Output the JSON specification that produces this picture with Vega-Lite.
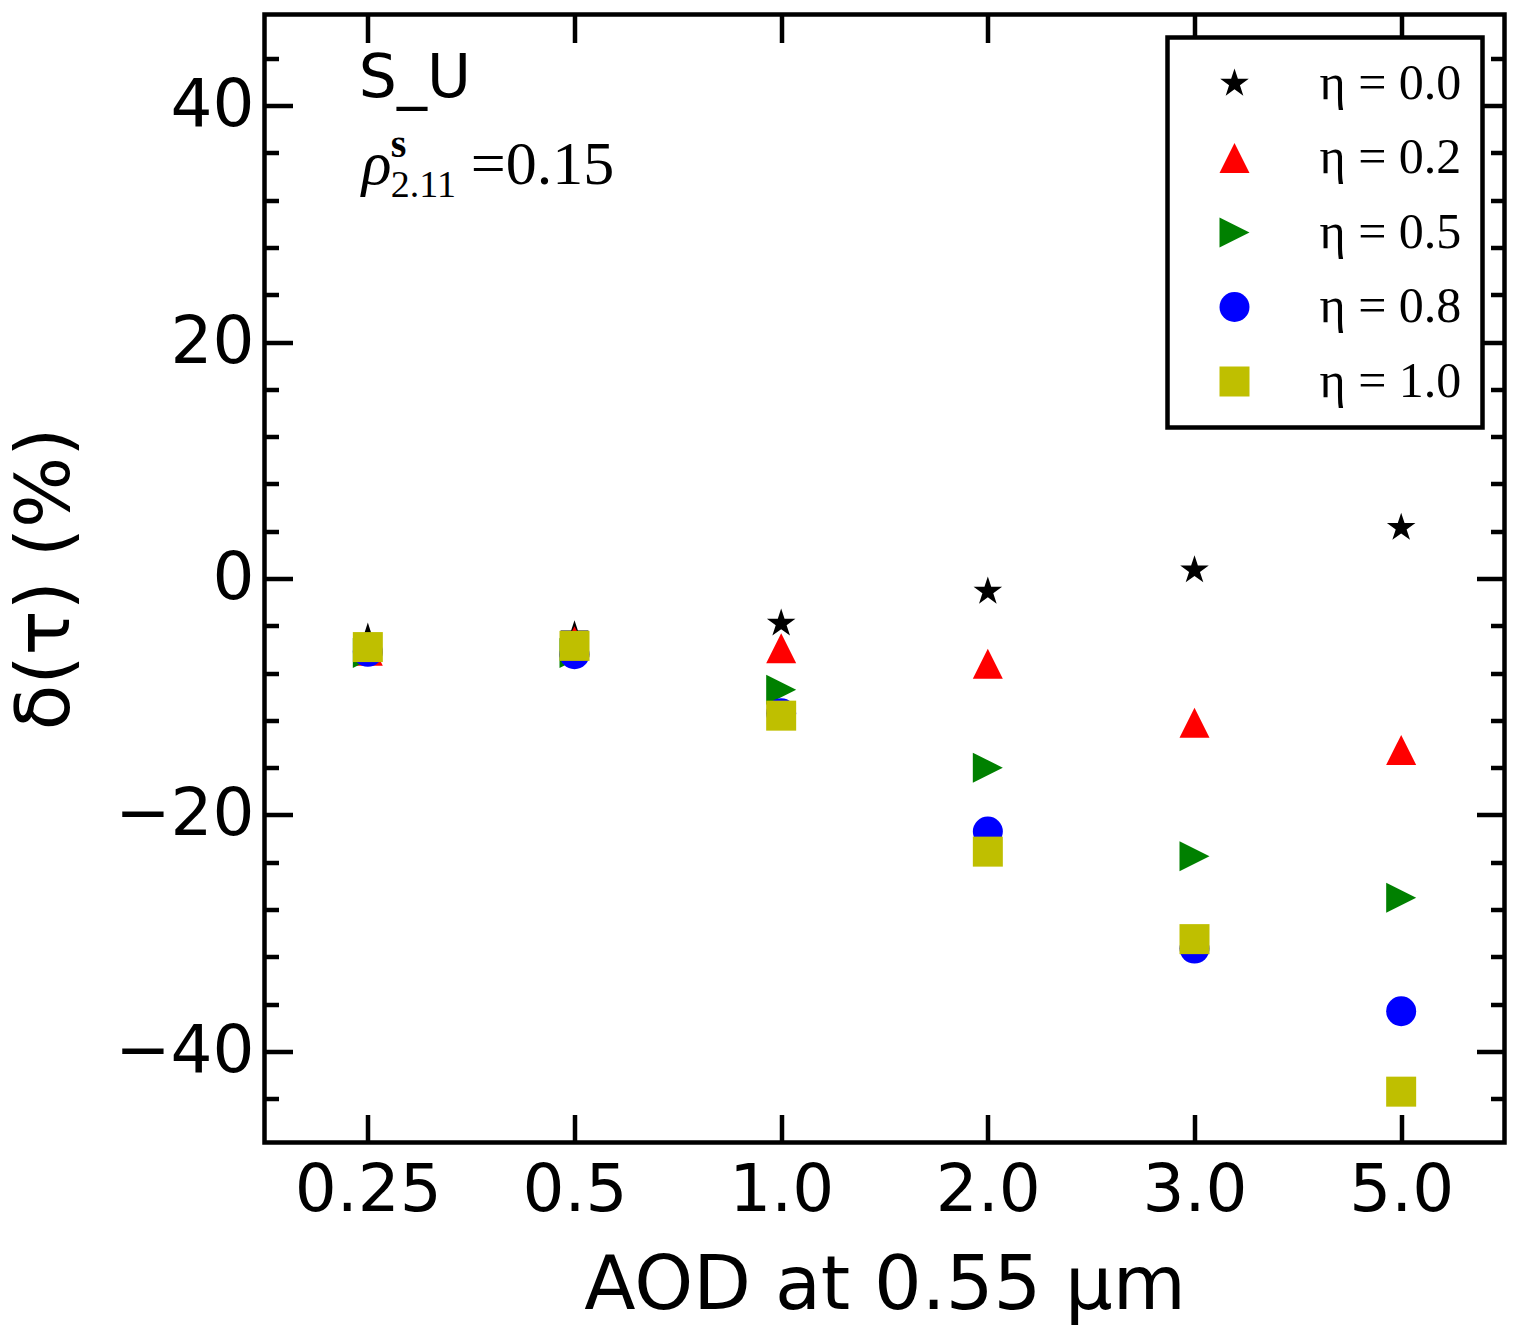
{
  "$schema": "https://vega.github.io/schema/vega-lite/v6.json",
  "width": 1240,
  "height": 1128,
  "autosize": {"type": "none"},
  "padding": {"left": 264.5, "top": 14.5, "right": 12.5, "bottom": 192.5},
  "background": "white",
  "config": {
    "view": {"stroke": "black", "strokeWidth": 4.5},
    "font": "DejaVu Sans",
    "axis": {"domain": false, "grid": false, "tickColor": "black", "tickWidth": 4.5, "labelColor": "black", "titleColor": "black", "labelFont": "DejaVu Sans", "titleFont": "DejaVu Sans", "titleFontWeight": "normal"},
    "legend": {
      "strokeColor": "black",
      "strokeWidth": 4.5,
      "fillColor": "white",
      "padding": 21,
      "offset": 22.5,
      "labelFont": "Liberation Serif",
      "labelFontSize": 50,
      "labelColor": "black",
      "labelLimit": 400,
      "symbolSize": 900,
      "symbolStrokeWidth": 0,
      "symbolOpacity": 1,
      "rowPadding": 24.5,
      "symbolOffset": 21,
      "labelOffset": 60
    }
  },
  "datasets": {
    "pts": [
      {"aod": "0.25", "eta": "η = 0.0", "delta": -5.0},
      {"aod": "0.5", "eta": "η = 0.0", "delta": -4.8},
      {"aod": "1.0", "eta": "η = 0.0", "delta": -3.8},
      {"aod": "2.0", "eta": "η = 0.0", "delta": -1.1},
      {"aod": "3.0", "eta": "η = 0.0", "delta": 0.7},
      {"aod": "5.0", "eta": "η = 0.0", "delta": 4.3},
      {"aod": "0.25", "eta": "η = 0.2", "delta": -6.1},
      {"aod": "0.5", "eta": "η = 0.2", "delta": -5.3},
      {"aod": "1.0", "eta": "η = 0.2", "delta": -5.9},
      {"aod": "2.0", "eta": "η = 0.2", "delta": -7.2},
      {"aod": "3.0", "eta": "η = 0.2", "delta": -12.2},
      {"aod": "5.0", "eta": "η = 0.2", "delta": -14.5},
      {"aod": "0.25", "eta": "η = 0.5", "delta": -6.3},
      {"aod": "0.5", "eta": "η = 0.5", "delta": -6.3},
      {"aod": "1.0", "eta": "η = 0.5", "delta": -9.4},
      {"aod": "2.0", "eta": "η = 0.5", "delta": -16.0},
      {"aod": "3.0", "eta": "η = 0.5", "delta": -23.5},
      {"aod": "5.0", "eta": "η = 0.5", "delta": -27.0},
      {"aod": "0.25", "eta": "η = 0.8", "delta": -6.2},
      {"aod": "0.5", "eta": "η = 0.8", "delta": -6.4},
      {"aod": "1.0", "eta": "η = 0.8", "delta": -11.4},
      {"aod": "2.0", "eta": "η = 0.8", "delta": -21.4},
      {"aod": "3.0", "eta": "η = 0.8", "delta": -31.3},
      {"aod": "5.0", "eta": "η = 0.8", "delta": -36.6},
      {"aod": "0.25", "eta": "η = 1.0", "delta": -5.8},
      {"aod": "0.5", "eta": "η = 1.0", "delta": -5.7},
      {"aod": "1.0", "eta": "η = 1.0", "delta": -11.6},
      {"aod": "2.0", "eta": "η = 1.0", "delta": -23.1},
      {"aod": "3.0", "eta": "η = 1.0", "delta": -30.5},
      {"aod": "5.0", "eta": "η = 1.0", "delta": -43.4}
    ]
  },
  "layer": [
    {
      "mark": {"type": "rule", "strokeDash": [30, 26], "strokeWidth": 4.5, "color": "black"},
      "encoding": {
        "y": {"datum": 0, "type": "quantitative", "scale": {"domain": [-47.7, 47.7], "nice": false, "zero": false},
          "axis": {"orient": "right", "values": [-40, -20, 0, 20, 40], "tickSize": -28, "labels": false, "title": null}}
      }
    },
    {
      "data": {"name": "pts"},
      "mark": {"type": "point", "filled": true, "opacity": 1, "size": 900, "strokeWidth": 0},
      "encoding": {
        "x": {"field": "aod", "type": "ordinal", "scale": {"type": "point", "padding": 0.5, "domain": ["0.25", "0.5", "1.0", "2.0", "3.0", "5.0"]},
          "axis": {"orient": "bottom", "labelAngle": 0, "labelFontSize": 66, "tickSize": -28, "labelPadding": 44, "title": "AOD at 0.55 μm", "titleFontSize": 75, "titlePadding": 26}},
        "y": {"field": "delta", "type": "quantitative", "scale": {"domain": [-47.7, 47.7], "nice": false, "zero": false},
          "axis": {"orient": "left", "values": [-40, -20, 0, 20, 40], "tickSize": -28, "labelPadding": 38.5, "labelFontSize": 66, "title": "δ(τ) (%)", "titleFontSize": 75, "titlePadding": 30}},
        "color": {"field": "eta", "type": "nominal", "scale": {"domain": ["η = 0.0", "η = 0.2", "η = 0.5", "η = 0.8", "η = 1.0"], "range": ["#000000", "#ff0000", "#008000", "#0000ff", "#bfbf00"]},
          "legend": {"title": null, "orient": "top-right"}},
        "shape": {"field": "eta", "type": "nominal", "scale": {"domain": ["η = 0.0", "η = 0.2", "η = 0.5", "η = 0.8", "η = 1.0"], "range": ["M0,-1L0.225,-0.309L0.951,-0.309L0.363,0.118L0.588,0.809L0,0.382L-0.588,0.809L-0.363,0.118L-0.951,-0.309L-0.225,-0.309Z", "M0,-1L1,1L-1,1Z", "M-1,-1L1,0L-1,1Z", "circle", "square"]},
          "legend": {"title": null, "orient": "top-right"}}
      }
    },
    {
      "data": {"name": "pts"},
      "mark": {"type": "point", "opacity": 0},
      "encoding": {
        "x": {"field": "aod", "type": "ordinal", "scale": {"type": "point", "padding": 0.5, "domain": ["0.25", "0.5", "1.0", "2.0", "3.0", "5.0"]},
          "axis": {"orient": "top", "tickSize": -28, "labels": false, "title": null}},
        "y": {"field": "delta", "type": "quantitative", "scale": {"domain": [-47.7, 47.7], "nice": false, "zero": false},
          "axis": {"orient": "left", "values": [-44, -36, -32, -28, -24, -16, -12, -8, -4, 4, 8, 12, 16, 24, 28, 32, 36, 44], "tickSize": -14, "labels": false, "title": null}}
      }
    },
    {
      "data": {"name": "pts"},
      "mark": {"type": "point", "opacity": 0},
      "encoding": {
        "x": {"field": "aod", "type": "ordinal", "scale": {"type": "point", "padding": 0.5, "domain": ["0.25", "0.5", "1.0", "2.0", "3.0", "5.0"]}, "axis": null},
        "y": {"field": "delta", "type": "quantitative", "scale": {"domain": [-47.7, 47.7], "nice": false, "zero": false},
          "axis": {"orient": "right", "values": [-44, -36, -32, -28, -24, -16, -12, -8, -4, 4, 8, 12, 16, 24, 28, 32, 36, 44], "tickSize": -14, "labels": false, "title": null}}
      }
    },
    {
      "data": {"values": [{"label": "S_U"}]},
      "mark": {"type": "text", "align": "left", "baseline": "alphabetic", "font": "DejaVu Sans", "fontSize": 60, "dx": -9, "color": "black"},
      "encoding": {
        "x": {"datum": "0.25", "type": "ordinal", "axis": null},
        "y": {"datum": 40.7, "type": "quantitative", "axis": null},
        "text": {"field": "label"}
      }
    },
    {
      "data": {"values": [{"label": "ρ"}]},
      "mark": {"type": "text", "align": "left", "baseline": "alphabetic", "font": "Liberation Serif", "fontStyle": "italic", "fontSize": 62, "dx": -6, "color": "black"},
      "encoding": {
        "x": {"datum": "0.25", "type": "ordinal", "axis": null},
        "y": {"datum": 33.4, "type": "quantitative", "axis": null},
        "text": {"field": "label"}
      }
    },
    {
      "data": {"values": [{"label": "s"}]},
      "mark": {"type": "text", "align": "left", "baseline": "alphabetic", "font": "Liberation Serif", "fontWeight": "bold", "fontSize": 40, "dx": 23, "dy": -27, "color": "black"},
      "encoding": {
        "x": {"datum": "0.25", "type": "ordinal", "axis": null},
        "y": {"datum": 33.4, "type": "quantitative", "axis": null},
        "text": {"field": "label"}
      }
    },
    {
      "data": {"values": [{"label": "2.11"}]},
      "mark": {"type": "text", "align": "left", "baseline": "alphabetic", "font": "Liberation Serif", "fontSize": 38, "dx": 23, "dy": 13, "color": "black"},
      "encoding": {
        "x": {"datum": "0.25", "type": "ordinal", "axis": null},
        "y": {"datum": 33.4, "type": "quantitative", "axis": null},
        "text": {"field": "label"}
      }
    },
    {
      "data": {"values": [{"label": "=0.15"}]},
      "mark": {"type": "text", "align": "left", "baseline": "alphabetic", "font": "Liberation Serif", "fontSize": 62, "dx": 103, "color": "black"},
      "encoding": {
        "x": {"datum": "0.25", "type": "ordinal", "axis": null},
        "y": {"datum": 33.4, "type": "quantitative", "axis": null},
        "text": {"field": "label"}
      }
    }
  ],
  "resolve": {
    "scale": {"x": "shared", "y": "shared", "color": "shared", "shape": "shared"},
    "axis": {"x": "independent", "y": "independent"}
  }
}
